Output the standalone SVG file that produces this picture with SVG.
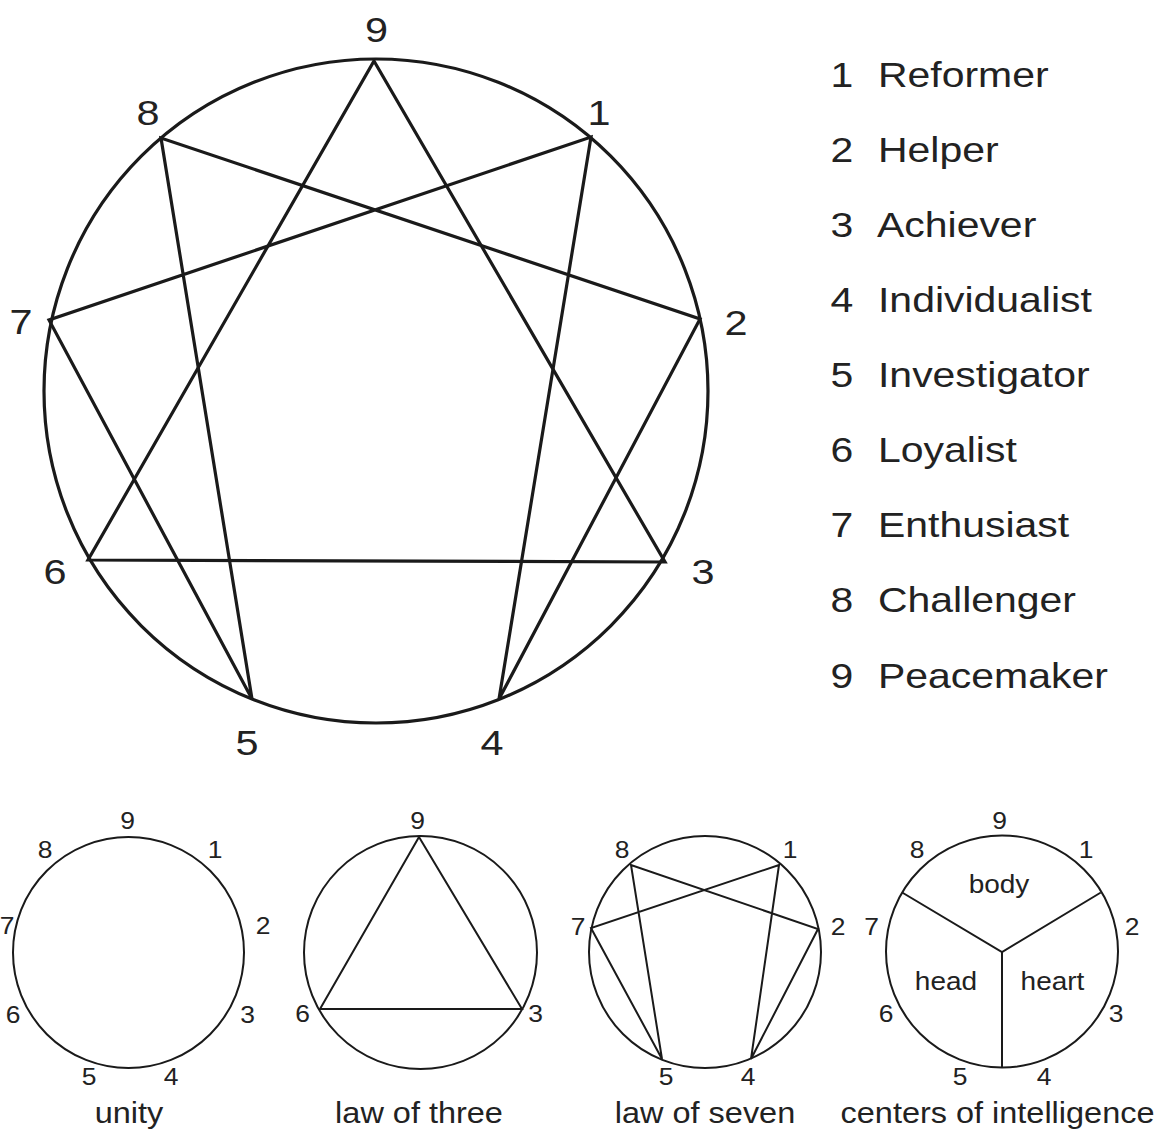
<svg xmlns="http://www.w3.org/2000/svg" width="1170" height="1133" viewBox="0 0 1170 1133">
<style>
  .bg { fill: #ffffff; }
  .big { fill: none; stroke: #1a1a1a; stroke-width: 3.2; stroke-linejoin: miter; stroke-linecap: round; }
  .sm { fill: none; stroke: #1a1a1a; stroke-width: 2; stroke-linecap: round; }
  .lbl { font-family: "Liberation Sans", Arial, Helvetica, sans-serif; fill: #222222; }
  .bigd { font-size: 36px; text-anchor: middle; }
  .list { font-size: 35px; }
  .listd { font-size: 35px; text-anchor: middle; }
  .smd { font-size: 23px; text-anchor: middle; }
  .cap { font-size: 29px; text-anchor: middle; }
  .inner { font-size: 25px; text-anchor: middle; }
</style>
<rect class="bg" x="0" y="0" width="1170" height="1133"/>

<g id="main-enneagram">
  <circle class="big" cx="376" cy="391" r="332"/>
  <g id="main-lines">
    <polygon class="big" points="374,61 665,562 88,560"/>
    <polygon class="big" points="591,137 499,699 700,319 161,138 252,699 49,320"/>
  </g>
  <g id="main-labels">
    <text class="lbl bigd" transform="translate(376.5,42) scale(1.15,1)">9</text>
    <text class="lbl bigd" transform="translate(599,125) scale(1.15,1)">1</text>
    <text class="lbl bigd" transform="translate(736,335) scale(1.15,1)">2</text>
    <text class="lbl bigd" transform="translate(703,584) scale(1.15,1)">3</text>
    <text class="lbl bigd" transform="translate(492,755) scale(1.15,1)">4</text>
    <text class="lbl bigd" transform="translate(247,755) scale(1.15,1)">5</text>
    <text class="lbl bigd" transform="translate(55,584) scale(1.15,1)">6</text>
    <text class="lbl bigd" transform="translate(21,334) scale(1.15,1)">7</text>
    <text class="lbl bigd" transform="translate(148,125) scale(1.15,1)">8</text>
  </g>
</g>

<g id="type-list">
  <text class="lbl listd" transform="translate(842,87) scale(1.17,1)">1</text>
  <text class="lbl list" transform="translate(878,87) scale(1.17,1)">Reformer</text>
  <text class="lbl listd" transform="translate(842,162) scale(1.17,1)">2</text>
  <text class="lbl list" transform="translate(878,162) scale(1.17,1)">Helper</text>
  <text class="lbl listd" transform="translate(842,237) scale(1.17,1)">3</text>
  <text class="lbl list" transform="translate(877,237) scale(1.17,1)">Achiever</text>
  <text class="lbl listd" transform="translate(842,312) scale(1.17,1)">4</text>
  <text class="lbl list" transform="translate(878,312) scale(1.17,1)">Individualist</text>
  <text class="lbl listd" transform="translate(842,387) scale(1.17,1)">5</text>
  <text class="lbl list" transform="translate(878,387) scale(1.17,1)">Investigator</text>
  <text class="lbl listd" transform="translate(842,462) scale(1.17,1)">6</text>
  <text class="lbl list" transform="translate(878,462) scale(1.17,1)">Loyalist</text>
  <text class="lbl listd" transform="translate(842,537) scale(1.17,1)">7</text>
  <text class="lbl list" transform="translate(878,537) scale(1.17,1)">Enthusiast</text>
  <text class="lbl listd" transform="translate(842,612) scale(1.17,1)">8</text>
  <text class="lbl list" transform="translate(878,612) scale(1.17,1)">Challenger</text>
  <text class="lbl listd" transform="translate(842,688) scale(1.17,1)">9</text>
  <text class="lbl list" transform="translate(878,688) scale(1.17,1)">Peacemaker</text>
</g>

<g id="unity">
  <circle class="sm" cx="128.5" cy="952.5" r="115.5"/>
  <text class="lbl smd" transform="translate(127.5,829) scale(1.15,1)">9</text>
  <text class="lbl smd" transform="translate(215,858) scale(1.15,1)">1</text>
  <text class="lbl smd" transform="translate(263,934) scale(1.15,1)">2</text>
  <text class="lbl smd" transform="translate(247.5,1023) scale(1.15,1)">3</text>
  <text class="lbl smd" transform="translate(171,1085) scale(1.15,1)">4</text>
  <text class="lbl smd" transform="translate(89,1085) scale(1.15,1)">5</text>
  <text class="lbl smd" transform="translate(13,1023) scale(1.15,1)">6</text>
  <text class="lbl smd" transform="translate(7,934) scale(1.15,1)">7</text>
  <text class="lbl smd" transform="translate(45,858) scale(1.15,1)">8</text>
  <text class="lbl cap" transform="translate(129,1123) scale(1.12,1)">unity</text>
</g>

<g id="law-of-three">
  <circle class="sm" cx="420.5" cy="952.5" r="116.5"/>
  <polygon class="sm" points="419,837 522,1009 320,1009"/>
  <text class="lbl smd" transform="translate(417.5,829) scale(1.15,1)">9</text>
  <text class="lbl smd" transform="translate(535.5,1022) scale(1.15,1)">3</text>
  <text class="lbl smd" transform="translate(302.5,1022) scale(1.15,1)">6</text>
  <text class="lbl cap" transform="translate(419,1123) scale(1.12,1)">law of three</text>
</g>

<g id="law-of-seven">
  <circle class="sm" cx="705" cy="952" r="116"/>
  <polygon class="sm" points="779,865 751,1059 818,929 631,865 662,1059 591,928"/>
  <text class="lbl smd" transform="translate(790,858) scale(1.15,1)">1</text>
  <text class="lbl smd" transform="translate(838,935) scale(1.15,1)">2</text>
  <text class="lbl smd" transform="translate(748,1085) scale(1.15,1)">4</text>
  <text class="lbl smd" transform="translate(666,1085) scale(1.15,1)">5</text>
  <text class="lbl smd" transform="translate(578,935) scale(1.15,1)">7</text>
  <text class="lbl smd" transform="translate(622,858) scale(1.15,1)">8</text>
  <text class="lbl cap" transform="translate(705,1123) scale(1.12,1)">law of seven</text>
</g>

<g id="centers-of-intelligence">
  <circle class="sm" cx="1002" cy="951.5" r="116"/>
  <polyline class="sm" points="903,893 1002,952 1100,893"/>
  <line class="sm" x1="1002" y1="952" x2="1002" y2="1067"/>
  <text class="lbl inner" transform="translate(999,893) scale(1.12,1)">body</text>
  <text class="lbl inner" transform="translate(946,990) scale(1.12,1)">head</text>
  <text class="lbl inner" transform="translate(1052.5,990) scale(1.12,1)">heart</text>
  <text class="lbl smd" transform="translate(999.5,829) scale(1.15,1)">9</text>
  <text class="lbl smd" transform="translate(1086,858) scale(1.15,1)">1</text>
  <text class="lbl smd" transform="translate(1132,935) scale(1.15,1)">2</text>
  <text class="lbl smd" transform="translate(1116,1022) scale(1.15,1)">3</text>
  <text class="lbl smd" transform="translate(1044,1085) scale(1.15,1)">4</text>
  <text class="lbl smd" transform="translate(960,1085) scale(1.15,1)">5</text>
  <text class="lbl smd" transform="translate(886,1022) scale(1.15,1)">6</text>
  <text class="lbl smd" transform="translate(871.5,935) scale(1.15,1)">7</text>
  <text class="lbl smd" transform="translate(917,858) scale(1.15,1)">8</text>
  <text class="lbl cap" transform="translate(997.5,1123) scale(1.12,1)">centers of intelligence</text>
</g>
</svg>
